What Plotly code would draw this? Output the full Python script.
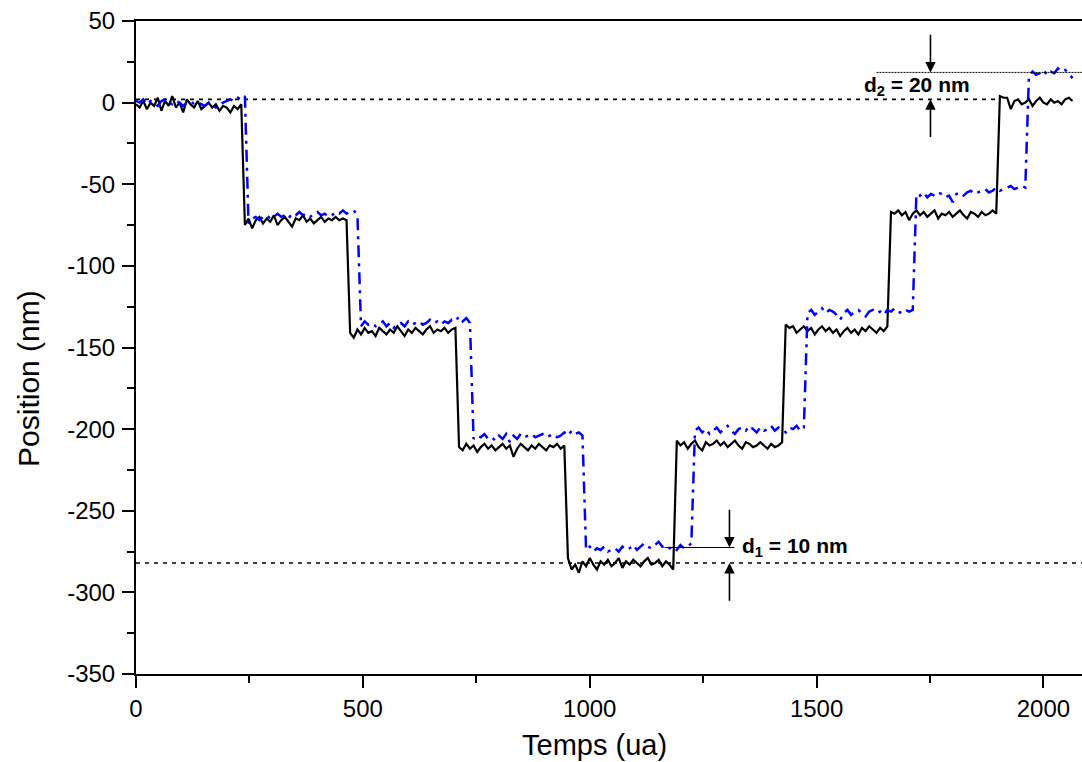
import numpy as np
import plotly.graph_objects as go

# ---------------- data ----------------
# sample times (ua): one sample every 8 units from 0 to 2064
time_ua = np.arange(0, 2072, 8)

# black trace, plateau by plateau (nm)
black_p0 = [-1, -3, 1, -4, 0, -2, 3, -5, 1, -2, 4, -3, 0, -6, 2, -1, -3, 1, -4, -2,
            0, -3, -1, -5, -2, -3, -6, -2, -4, -1]
black_p1 = [-75, -71, -77, -72, -70, -74, -71, -73, -69, -75, -72, -70, -73, -76, -71,
            -72, -69, -73, -71, -74, -72, -70, -73, -71, -72, -70, -72, -71, -72]
black_p2 = [-141, -144, -139, -142, -138, -141, -140, -143, -138, -140, -142, -139, -141,
            -137, -140, -143, -139, -141, -138, -140, -142, -139, -137, -141, -139, -140,
            -138, -141, -139, -138]
black_p3 = [-211, -213, -209, -212, -210, -214, -211, -209, -212, -210, -213, -211, -209,
            -212, -210, -217, -212, -209, -211, -213, -210, -212, -209, -211, -213, -210,
            -211, -209, -212, -210]
black_p4 = [-279, -286, -283, -288, -281, -284, -279, -283, -286, -281, -283, -280, -284,
            -282, -279, -285, -281, -283, -280, -282, -284, -281, -279, -283, -282, -280,
            -284, -281, -283, -286]
black_p5 = [-207, -210, -208, -212, -209, -207, -211, -213, -208, -210, -209, -207, -210,
            -208, -211, -209, -207, -210, -212, -208, -209, -211, -210, -208, -210, -212,
            -209, -211, -210, -208]
black_p6 = [-136, -138, -137, -141, -139, -137, -140, -138, -142, -139, -137, -140, -138,
            -141, -139, -143, -140, -138, -141, -139, -142, -138, -140, -137, -139, -141,
            -138, -140, -137]
black_p7 = [-67, -68, -66, -69, -67, -72, -68, -66, -69, -67, -70, -68, -66, -71, -68,
            -69, -67, -70, -68, -66, -69, -71, -67, -68, -70, -67, -69, -68, -66, -68]
black_p8 = [4, 3, 3, -4, 1, 2, -1, 0, 2, -2, 1, 3, 0, -1, 2, 0, 1, -1, 2, 3, 1]

# blue trace, plateau by plateau (nm)
blue_p0 = [1, 0, 2, -1, 1, 0, -2, 1, 2, 0, -1, 1, 0, -2, 0, 1, -1, 0, -1, -2, 0, -1,
           -3, -1, 0, 1, 2, 1, 3, 2, 4]
blue_p1 = [-74, -71, -70, -72, -70, -69, -71, -70, -68, -70, -69, -71, -68, -69, -67,
           -69, -68, -70, -68, -67, -69, -68, -70, -69, -67, -68, -66, -68, -67, -66, -69]
blue_p2 = [-137, -134, -136, -135, -137, -136, -134, -137, -135, -138, -136, -135, -137,
           -134, -136, -135, -134, -136, -135, -133, -135, -134, -136, -134, -135, -133,
           -134, -131, -134, -132, -135]
blue_p3 = [-206, -204, -205, -203, -206, -205, -207, -204, -206, -203, -208, -204, -206,
           -203, -205, -204, -203, -205, -204, -203, -205, -204, -203, -205, -204, -202,
           -204, -201, -203, -202, -204]
blue_p4 = [-274, -272, -275, -273, -274, -272, -275, -274, -273, -275, -272, -274, -273,
           -271, -274, -272, -270, -272, -273, -271, -269, -272, -271, -273, -272, -274,
           -271, -273, -272, -270]
blue_p5 = [-201, -199, -202, -200, -203, -201, -199, -202, -200, -198, -201, -203, -200,
           -199, -201, -198, -200, -202, -199, -201, -200, -198, -201, -199, -200, -202,
           -199, -200, -198, -201, -199]
blue_p6 = [-129, -127, -130, -128, -126, -129, -127, -128, -130, -133, -129, -127, -130,
           -128, -127, -129, -131, -128, -127, -129, -128, -130, -127, -128, -126, -128,
           -129, -127, -128, -127]
blue_p7 = [-56, -57, -55, -58, -56, -57, -55, -56, -58, -57, -61, -56, -55, -57, -55,
           -54, -56, -55, -54, -53, -55, -54, -52, -54, -53, -52, -51, -53, -52, -51, -52]
blue_p8 = [16, 19, 17, 18, 20, 17, 19, 18, 21, 19, 20, 18, 15]

black_y = (black_p0 + black_p1 + black_p2 + black_p3 + black_p4 + black_p5
           + black_p6 + black_p7 + black_p8)
blue_y = (blue_p0 + blue_p1 + blue_p2 + blue_p3 + blue_p4 + blue_p5
          + blue_p6 + blue_p7 + blue_p8)

# axis ticks (labels use a plain hyphen, as in the reference)
x_tickvals = [0, 500, 1000, 1500, 2000]
x_ticktext = ["0", "500", "1000", "1500", "2000"]
y_tickvals = [-350, -300, -250, -200, -150, -100, -50, 0, 50]
y_ticktext = ["-350", "-300", "-250", "-200", "-150", "-100", "-50", "0", "50"]

# reference levels (nm) and their time extents (ua)
ref_upper = 2
ref_upper_end = 1905
ref_lower = -282
d1_level = -272.5
d1_span = [1165, 1319]
d2_level = 18.5
d2_start = 1632
d1_arrow_x = 1308
d2_arrow_x = 1751
arrow_len = 24
d1_label = "<b>d<sub>1</sub> = 10 nm</b>"
d2_label = "<b>d<sub>2</sub> = 20 nm</b>"

x_range = [0, 2085]
y_range = [-350, 50]

FONT = "Liberation Sans, Arial, sans-serif"

# ---------------- figure ----------------
fig = go.Figure()
fig.add_trace(go.Scatter(x=time_ua, y=black_y, mode="lines",
                         line=dict(color="black", width=2.2), showlegend=False))
fig.add_trace(go.Scatter(x=time_ua, y=blue_y, mode="lines",
                         line=dict(color="#0000FF", width=2.5, dash="12px,6px,3px,6px"),
                         showlegend=False))

dotted = dict(color="black", width=1.6, dash="4px,5px")
fig.add_shape(type="line", x0=0, x1=ref_upper_end, y0=ref_upper, y1=ref_upper,
              xref="x", yref="y", line=dotted, layer="below")
fig.add_shape(type="line", x0=0, x1=x_range[1], y0=ref_lower, y1=ref_lower,
              xref="x", yref="y", line=dotted, layer="below")
fig.add_shape(type="line", x0=d1_span[0], x1=d1_span[1], y0=d1_level, y1=d1_level,
              xref="x", yref="y", line=dict(color="black", width=1))
fig.add_shape(type="line", x0=d2_start, x1=x_range[1], y0=d2_level, y1=d2_level,
              xref="x", yref="y", line=dict(color="black", width=1, dash="2px,1px"))

arrow_common = dict(showarrow=True, text="", xref="x", yref="y", axref="x", ayref="y",
                    arrowhead=2, arrowsize=1.3, arrowwidth=1.6, arrowcolor="black",
                    standoff=0)
fig.add_annotation(x=d1_arrow_x, y=d1_level, ax=d1_arrow_x, ay=d1_level + arrow_len,
                   **arrow_common)
fig.add_annotation(x=d1_arrow_x, y=ref_lower, ax=d1_arrow_x, ay=ref_lower - arrow_len,
                   **arrow_common)
fig.add_annotation(x=d2_arrow_x, y=d2_level, ax=d2_arrow_x, ay=d2_level + arrow_len,
                   **arrow_common)
fig.add_annotation(x=d2_arrow_x, y=ref_upper, ax=d2_arrow_x, ay=ref_upper - arrow_len,
                   **arrow_common)

fig.add_annotation(x=1331, y=-272, text=d1_label, showarrow=False, xref="x", yref="y",
                   xanchor="left", yanchor="middle",
                   font=dict(family=FONT, size=21, color="black"))
fig.add_annotation(x=1600, y=10, text=d2_label, showarrow=False, xref="x", yref="y",
                   xanchor="left", yanchor="middle",
                   font=dict(family=FONT, size=21, color="black"))

# axis titles placed as annotations (paper coordinates)
fig.add_annotation(text="Temps (ua)", xref="paper", yref="paper", x=0.485, y=-0.108,
                   xanchor="center", yanchor="middle", showarrow=False,
                   font=dict(family=FONT, size=29, color="black"))
fig.add_annotation(text="Position (nm)", xref="paper", yref="paper", x=-0.113, y=0.452,
                   xanchor="center", yanchor="middle", showarrow=False, textangle=-90,
                   font=dict(family=FONT, size=30, color="black"))

axis_common = dict(showline=True, linecolor="black", linewidth=2, ticks="outside",
                   ticklen=12, tickwidth=2, tickcolor="black", showgrid=False,
                   zeroline=False, tickmode="array",
                   tickfont=dict(family=FONT, size=24, color="black"))

fig.update_layout(
    width=1082, height=762,
    margin=dict(l=136, r=0, t=21, b=88),
    paper_bgcolor="white", plot_bgcolor="white",
    font=dict(family=FONT, color="black"),
    hovermode=False,
    xaxis=dict(range=x_range, tickvals=x_tickvals, ticktext=x_ticktext, mirror=True,
               minor=dict(tick0=0, dtick=250, ticks="outside", ticklen=7, tickwidth=2,
                          tickcolor="black"),
               **axis_common),
    yaxis=dict(range=y_range, tickvals=y_tickvals, ticktext=y_ticktext, mirror=False,
               ticklabelstandoff=2,
               minor=dict(tick0=0, dtick=25, ticks="outside", ticklen=7, tickwidth=2,
                          tickcolor="black"),
               **axis_common),
)

# remove the default page margin so the figure sits at the window's top-left corner
fig.write_html("out.html",
               config={"displayModeBar": False},
               post_script="document.body.style.margin='0px';"
                           "document.body.style.overflow='hidden';")
